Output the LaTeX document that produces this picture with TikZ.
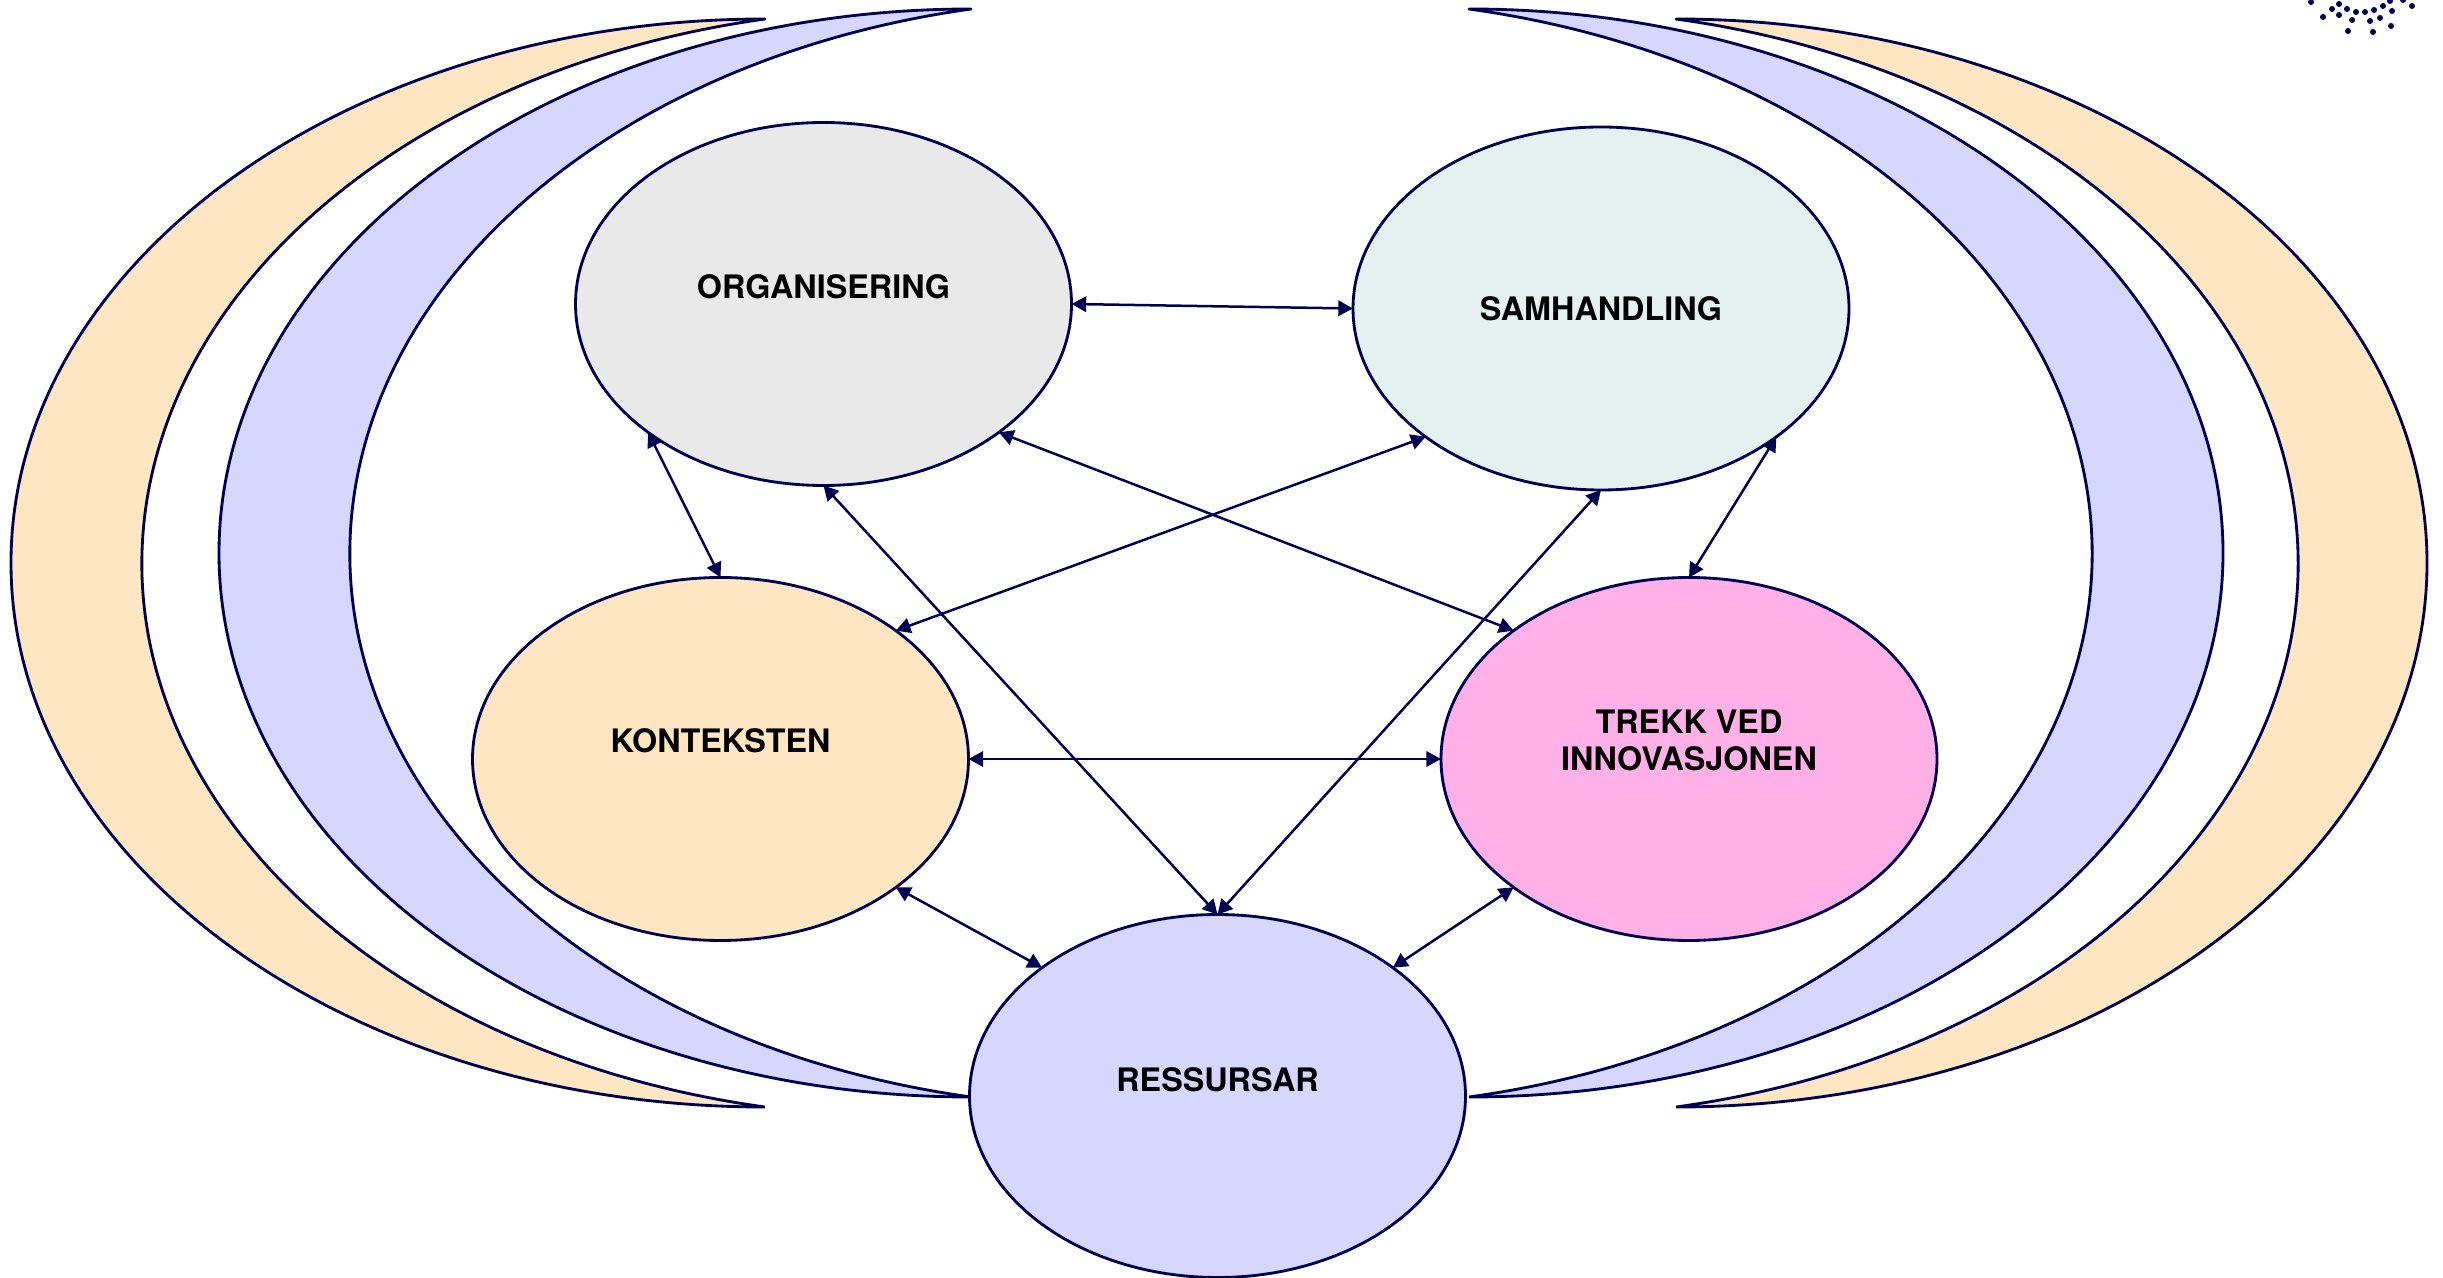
\documentclass[tikz,border=0pt]{standalone}
\usepackage{fontspec}
\setmainfont{TeX Gyre Heros}
\usetikzlibrary{shapes.geometric,arrows.meta}
\definecolor{navy}{HTML}{000050}
\definecolor{moonorange}{HTML}{FFE6C2}
\definecolor{moonblue}{HTML}{D6D6FF}
\definecolor{orggrey}{HTML}{E9E9E9}
\definecolor{samteal}{HTML}{E5F1F1}
\definecolor{trekkpink}{HTML}{FFB0E6}
% PowerPoint-like moon: outer half ellipse, inner ellipse arc through the two tips
\newcommand{\moongeom}[3]{%
  \pgfmathsetmacro{\mw}{#1/100}\pgfmathsetmacro{\mt}{#2/100}%
  \pgfmathsetmacro{\mgone}{\mw-\mt}%
  \pgfmathsetmacro{\mgtwo}{\mt*\mt/\mgone}%
  \pgfmathsetmacro{\mgthree}{\mw*\mw/\mgone}%
  \pgfmathsetmacro{\mgseven}{\mgthree-\mgtwo/2}%
  \pgfmathsetmacro{\mR}{\mgseven-\mt}%
  \pgfmathsetmacro{\mB}{\mR*#3/\mw}%
  \pgfmathsetmacro{\mT}{acos(-(\mgseven-\mw)/\mR)}}
\newcommand{\moonleft}[6]{\moongeom{#2}{#3}{#5}%
  \draw[moon,fill=#6] (#1,#4) arc[start angle=90,end angle=270,x radius=#2*0.03cm,y radius=#5*0.03cm]
   arc[start angle=360-\mT,end angle=\mT,x radius=\mR*3cm,y radius=\mB*0.03cm] -- cycle;}
\newcommand{\moonright}[6]{\moongeom{#2}{#3}{#5}%
  \draw[moon,fill=#6] (#1,#4) arc[start angle=90,end angle=-90,x radius=#2*0.03cm,y radius=#5*0.03cm]
   arc[start angle=\mT-180,end angle=180-\mT,x radius=\mR*3cm,y radius=\mB*0.03cm] -- cycle;}
\begin{document}
\begin{tikzpicture}[x=0.03cm,y=0.03cm,line width=0.085cm,
  moon/.style={draw=navy,line join=bevel},
  blob/.style={ellipse,draw=navy,minimum width=496*0.03cm,minimum height=363*0.03cm,inner sep=0pt,outer sep=0pt,align=center,font=\fontsize{27.6}{32}\selectfont\bfseries,text=black},
  link/.style={draw=navy,line width=0.075cm,{Triangle[length=0.44cm,width=0.46cm]}-{Triangle[length=0.44cm,width=0.46cm]}}]
\useasboundingbox (0,0) rectangle (2443,1277);
\moonleft{765}{754}{131}{1258}{544}{moonorange}
\moonleft{971}{752}{131}{1268}{544}{moonblue}
\moonright{1469}{754}{131}{1268}{544}{moonblue}
\moonright{1676}{751}{129}{1258}{544}{moonorange}
\node[blob,fill=orggrey] (org) at (823.5,973) {ORGANISERING\\[-2pt]\mbox{}};
\node[blob,fill=samteal] (sam) at (1601,968.5) {SAMHANDLING};
\node[blob,fill=moonorange] (kon) at (720.5,518) {KONTEKSTEN\\\mbox{}};
\node[blob,fill=trekkpink] (tre) at (1689,518) {TREKK VED\\INNOVASJONEN\\\mbox{}};
\node[blob,fill=moonblue] (res) at (1217.5,181) {RESSURSAR\\[-4pt]\mbox{}};
\draw[link] (org.east) -- (sam.west);
\draw[link] (org.south west) -- (kon.north);
\draw[link] (org.south east) -- (tre.north west);
\draw[link] (sam.south west) -- (kon.north east);
\draw[link] (org.south) -- (res.north);
\draw[link] (sam.south) -- (res.north);
\draw[link] (sam.south east) -- (tre.north);
\draw[link] (kon.east) -- (tre.west);
\draw[link] (kon.south east) -- (res.north west);
\draw[link] (tre.south west) -- (res.north east);
\foreach \dx/\dy in {2311/2,2339/4,2332/9,2347/9,2356/12,2365/12,2374/10,2383/6,2390/1,2392/11,2412/6,2323/17,2339/15,2352/20,2370/21,2380/18,2391/26,2348/31,2373/32,2403/0}
  \fill[navy] (\dx,1277-\dy) circle[radius=0.09cm];
\end{tikzpicture}
\end{document}
